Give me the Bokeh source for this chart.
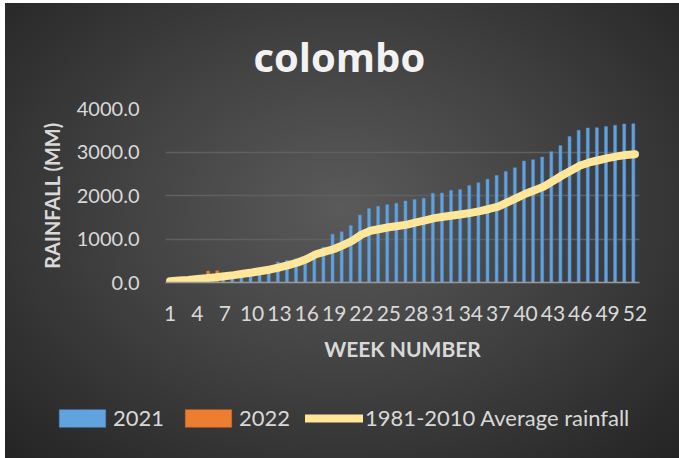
from bokeh.plotting import figure
from bokeh.models import FixedTicker, Legend, LegendItem, Range1d, NumeralTickFormatter
from bokeh.layouts import column
from bokeh.embed import file_html
from bokeh.resources import INLINE

weeks = list(range(1, 53))
rain_2021 = [10, 30, 50, 70, 85, 100, 120, 150, 180, 220,
             270, 350, 470, 510, 550, 600, 720, 810, 1110, 1165,
             1308, 1550, 1700, 1753, 1790, 1820, 1875, 1908, 1938, 2053,
             2060, 2115, 2138, 2230, 2292, 2376, 2461, 2553, 2638, 2792,
             2823, 2884, 3007, 3146, 3354, 3499, 3553, 3560, 3584, 3615,
             3645, 3650]
weeks_2022 = [1, 2, 3, 4, 5, 6]
rain_2022 = [10, 40, 90, 150, 265, 270]
avg_rain = [30, 45, 60, 80, 100, 120, 145, 170, 200, 230,
            265, 300, 345, 400, 460, 540, 650, 710, 770, 860,
            960, 1100, 1190, 1230, 1270, 1300, 1330, 1380, 1430, 1480,
            1510, 1540, 1570, 1600, 1640, 1690, 1745, 1840, 1940, 2040,
            2120, 2205, 2330, 2460, 2575, 2690, 2760, 2810, 2860, 2900,
            2930, 2950]
x_ticks = list(range(1, 53, 3))
y_ticks = [0, 1000, 2000, 3000, 4000]
legend_labels = ["2021", "2022", "1981-2010 Average rainfall"]

TXT = "#d9d9d9"
FONT = "Lato"
BLUE, BLUE_EDGE = "#62a3df", "#4f8fcf"
ORANGE, ORANGE_EDGE = "#ed7d31", "#d86a20"
YELLOW = "#ffe699"


def add_series(fig):
    r1 = fig.vbar(x=[w - 0.175 for w in weeks], top=rain_2021, width=0.33,
                  fill_color=BLUE, line_color=BLUE_EDGE, line_width=0.5)
    r2 = fig.vbar(x=[w + 0.175 for w in weeks_2022], top=rain_2022, width=0.33,
                  fill_color=ORANGE, line_color=ORANGE_EDGE, line_width=0.5)
    r3 = fig.line(weeks, avg_rain, line_width=8, line_color=YELLOW,
                  line_cap="round", line_join="round")
    return r1, r2, r3


p = figure(width=674, height=385, output_backend="svg", toolbar_location=None,
           x_range=Range1d(0.5, 52.5), y_range=Range1d(0, 4000),
           min_border_left=160, min_border_right=40, min_border_top=105,
           min_border_bottom=106, margin=0)
p.frame_align = False
p.background_fill_alpha = 0
p.border_fill_alpha = 0
p.outline_line_color = None

p.title.text = "colombo"
p.title.align = "left"
p.title.vertical_align = "top"
p.title.text_font = "Open Sans"
p.title.text_font_size = "40px"
p.title.text_font_style = "bold"
p.title.text_color = "#f2f2f2"
p.title.offset = 88
p.title.standoff = 45

add_series(p)

p.xgrid.grid_line_color = None
p.ygrid.grid_line_color = "#606060"
p.ygrid.grid_line_width = 1.5
p.ygrid.ticker = FixedTicker(ticks=y_ticks)

xa = p.xaxis[0]
xa.ticker = FixedTicker(ticks=x_ticks)
xa.axis_line_color = "#9a9a9a"
xa.axis_line_width = 1.5
xa.major_tick_line_color = None
xa.minor_tick_line_color = None
xa.major_label_text_color = TXT
xa.major_label_text_font = FONT
xa.major_label_text_font_size = "21px"
xa.major_label_standoff = 17
xa.axis_label = "WEEK NUMBER"
xa.axis_label_text_color = TXT
xa.axis_label_text_font = FONT
xa.axis_label_text_font_style = "bold"
xa.axis_label_text_font_size = "21px"
xa.axis_label_standoff = 12

ya = p.yaxis[0]
ya.ticker = FixedTicker(ticks=y_ticks)
ya.formatter = NumeralTickFormatter(format="0.0")
ya.axis_line_color = None
ya.major_tick_line_color = None
ya.minor_tick_line_color = None
ya.major_label_text_color = TXT
ya.major_label_text_font = FONT
ya.major_label_text_font_size = "20px"
ya.major_label_standoff = 20
ya.axis_label = "RAINFALL (MM)"
ya.axis_label_text_color = TXT
ya.axis_label_text_font = FONT
ya.axis_label_text_font_style = "bold"
ya.axis_label_text_font_size = "20px"
ya.axis_label_standoff = 10

# legend strip below the chart: same series, ranges set so nothing shows
lf = figure(width=674, height=70, output_backend="svg", toolbar_location=None,
            x_range=Range1d(-20, -10), y_range=Range1d(-20, -10),
            min_border=0, margin=0)
lf.frame_align = False
lf.background_fill_alpha = 0
lf.border_fill_alpha = 0
lf.outline_line_color = None
lf.axis.visible = False
lf.grid.visible = False
l1, l2, l3 = add_series(lf)
legend = Legend(items=[LegendItem(label=legend_labels[0], renderers=[l1]),
                       LegendItem(label=legend_labels[1], renderers=[l2]),
                       LegendItem(label=legend_labels[2], renderers=[l3])],
                orientation="horizontal", location=(48, 27),
                background_fill_alpha=0, border_line_color=None,
                glyph_width=58, glyph_height=22, label_standoff=2, spacing=15,
                padding=0, margin=0,
                label_text_color=TXT, label_text_font=FONT, label_text_font_size="22px")
lf.add_layout(legend, "center")

layout = column(p, lf, width=674, height=455, margin=(3, 0, 0, 5), spacing=0,
                styles={"background": "radial-gradient(ellipse at 50% 45%, #5a5a5a 0%, #404040 50%, #242424 100%)"})

open("out.html", "w").write(file_html(layout, INLINE))
